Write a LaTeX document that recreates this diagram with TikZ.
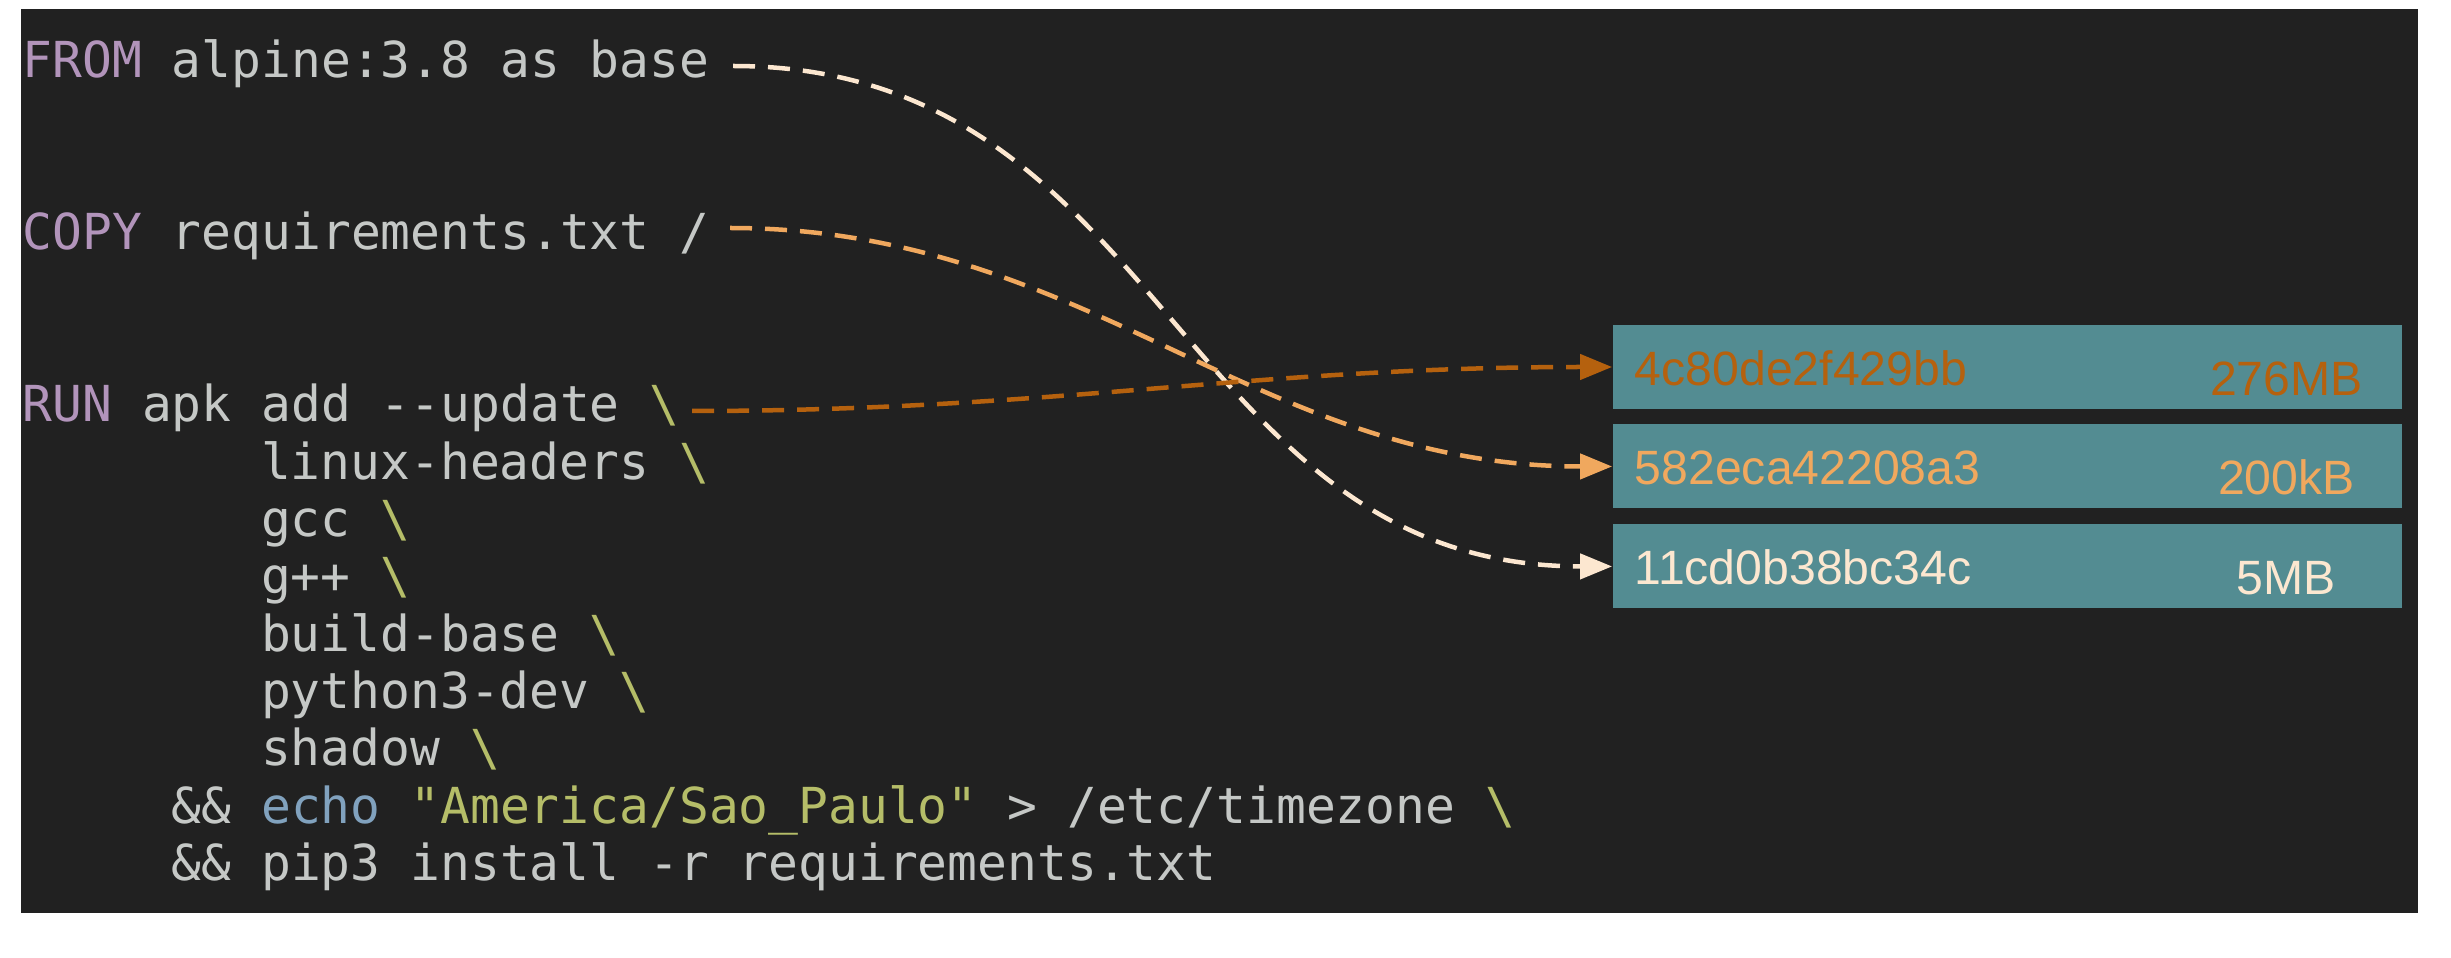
\documentclass[tikz,border=0pt]{standalone}
\usepackage{fontspec}
\usepackage{xcolor}
\usepackage{tikz}
\usetikzlibrary{arrows.meta,positioning}
\newfontfamily\codefont[Ligatures=TeXOff]{DejaVu Sans Mono}
\newfontfamily\layerfont{Liberation Sans}
\definecolor{editorbg}{HTML}{212121}
\definecolor{codegray}{HTML}{C5C8C6}
\definecolor{kwpurple}{HTML}{B294BB}
\definecolor{strgreen}{HTML}{B5BD68}
\definecolor{echoblue}{HTML}{81A2BE}
\definecolor{layerteal}{HTML}{538C92}
\definecolor{runorange}{HTML}{B5610E}
\definecolor{copyorange}{HTML}{F0A85E}
\definecolor{fromcream}{HTML}{FCE7D0}
\newcommand\kw[1]{\textcolor{kwpurple}{#1}}
\newcommand\bsl{\textcolor{strgreen}{\textbackslash}}

\begin{document}
\begin{tikzpicture}[x=0.01cm, y=-0.01cm,
    code/.style={anchor=base west, inner sep=0pt, text=codegray,
        font=\codefont\fontsize{14.1}{16}\selectfont},
    layer/.style={fill=layerteal, minimum width=7.89cm, minimum height=0.84cm,
        inner sep=0pt},
    layertext/.style={inner sep=0pt, font=\layerfont\fontsize{13.7}{16}\selectfont},
    link/.style={line width=1.28pt, dash pattern=on 0.22cm off 0.13cm,
        -{Triangle[length=0.32cm, width=0.25cm]}}]

    % Fond
    \useasboundingbox (0,0) rectangle (2451,958);
    \fill[white] (0,0) rectangle (2451,958);
    \fill[editorbg] (21,9) rectangle (2418,913);

    % Lignes du Dockerfile
    \foreach \name/\y/\ind/\txt in {
        from/78/0/{\kw{FROM} alpine:3.8 as base},
        copy/250/0/{\kw{COPY} requirements.txt /},
        run/422/0/{\kw{RUN} apk add --update \bsl},
        linux/479.3/8/{linux-headers \bsl},
        gcc/536.6/8/{gcc \bsl},
        gpp/593.9/8/{g++ \bsl},
        build/651.2/8/{build-base \bsl},
        python/708.5/8/{python3-dev \bsl},
        shadow/765.8/8/{shadow \bsl},
        echo/823.1/5/{\&\& \textcolor{echoblue}{echo} \textcolor{strgreen}{"America/Sao\_Paulo"} > /etc/timezone \bsl},
        pip/880.4/5/{\&\& pip3 install -r requirements.txt}} {
        \node[code] (\name) at ({22+\ind*29.8}, \y) {\txt};
    }

    % Couches de l'image
    \node[layer] (l1) at (2007.5,367) {};
    \node[layer, below=0.14cm of l1] (l2) {};
    \node[layer, below=0.145cm of l2] (l3) {};

    \foreach \n/\id/\sz/\col in {
        l1/4c80de2f429bb/276MB/runorange,
        l2/582eca42208a3/200kB/copyorange,
        l3/11cd0b38bc34c/5MB/fromcream} {
        \node[layertext, text=\col, anchor=base west] (\n id) at ([xshift=0.22cm, yshift=-0.18cm]\n.west) {\id};
        \node[layertext, text=\col, anchor=base] (\n size) at ([xshift=6.74cm, yshift=-0.28cm]\n.west) {\sz};
    }

    % Départs des flèches
    \coordinate (fromEnd) at (733,66);
    \coordinate (copyEnd) at (730,228);
    \coordinate (runEnd) at (692,411);

    % Liens instruction -> couche
    \draw[link, fromcream] (fromEnd) to[out=0, in=180, looseness=1.1] (l3.west);
    \draw[link, copyorange] (copyEnd) to[out=0, in=180] (l2.west);
    \draw[link, runorange] (runEnd) to[out=0, in=180] (l1.west);
\end{tikzpicture}
\end{document}
